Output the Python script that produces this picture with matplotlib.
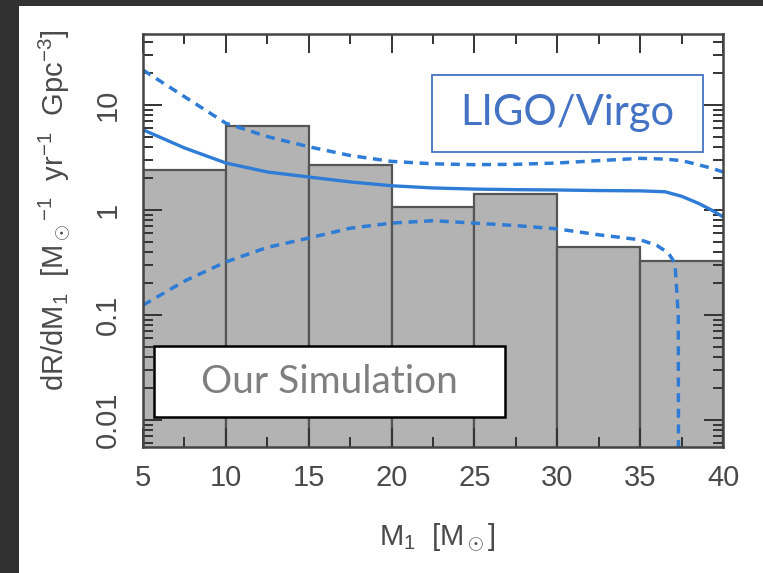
#!/usr/bin/env python
# -*- coding:utf-8 -*-

""" Primary mass distribution: simulation histogram vs LIGO/Virgo """

import numpy as np
import matplotlib
matplotlib.use('Agg')
import matplotlib.pyplot as plt
from matplotlib.patches import Rectangle
from matplotlib.ticker import FixedLocator, NullFormatter, LogLocator

#
#---
# Data
#--------------------

# simulation histogram
m_edges = [5, 10, 15, 20, 25, 30, 35, 40]
sim_rate = [2.4, 6.3, 2.7, 1.07, 1.42, 0.44, 0.33]

# LIGO/Virgo median and upper bound
ligo_m = [5, 7.5, 10, 12.5, 15, 17.5, 20, 22.5, 25, 27.5, 30, 32.5, 35,
          36.5, 37.5, 38.5, 39.3, 40]
ligo_median = [5.8, 3.9, 2.8, 2.3, 2.06, 1.85, 1.7, 1.62, 1.58, 1.56, 1.55,
               1.53, 1.52, 1.49, 1.35, 1.16, 1.0, 0.86]
ligo_upper = [21.5, 12.0, 6.7, 5.0, 4.0, 3.3, 2.9, 2.75, 2.7, 2.72, 2.8,
              2.95, 3.1, 3.05, 2.95, 2.7, 2.5, 2.3]

# LIGO/Virgo lower bound (drops to zero near 37 Msun)
lower_m = [5, 7.5, 10, 12.5, 15, 17.5, 20, 22.5, 25, 27.5, 30, 32.5, 35,
           36, 36.7, 37.1, 37.3, 37.32]
ligo_lower = [0.124, 0.21, 0.32, 0.44, 0.54, 0.67, 0.75, 0.79, 0.75, 0.71,
              0.66, 0.58, 0.52, 0.46, 0.39, 0.31, 0.1, 0.001]

x_ticks = [5, 10, 15, 20, 25, 30, 35, 40]
y_ticks = [0.01, 0.1, 1, 10]
y_ticklabels = ['0.01', '0.1', '1', '10']

#
#---
# Style
#--------------------

plt.rcParams['font.family'] = ['Liberation Sans', 'DejaVu Sans']
plt.rcParams['mathtext.fontset'] = 'custom'
plt.rcParams['mathtext.rm'] = 'Liberation Sans'
plt.rcParams['mathtext.it'] = 'Liberation Sans'

txtCol = '#4a4a4a'
lineCol = '#2e7cd6'
barFace = '#b3b3b3'
barEdge = '#555555'

fig = plt.figure(figsize=(7.63, 5.73), dpi=100, facecolor='white')
ax = fig.add_axes([0.1874, 0.2199, 0.7602, 0.7208])

# dark frame around the screenshot
fig.patches.append(Rectangle((0, 1 - 6 / 573.), 1, 6 / 573., transform=fig.transFigure,
                             facecolor='#313131', edgecolor='none', zorder=0))
fig.patches.append(Rectangle((0, 0), 19 / 763., 1, transform=fig.transFigure,
                             facecolor='#313131', edgecolor='none', zorder=0))

#---------#
# Drawing #
#---------#

ax.bar(m_edges[:-1], sim_rate, width=np.diff(m_edges), align='edge',
       color=barFace, edgecolor=barEdge, linewidth=1.6, zorder=1)

ax.plot(ligo_m, ligo_median, color=lineCol, linewidth=2.4, zorder=3)
ax.plot(ligo_m, ligo_upper, color=lineCol, linewidth=2.5, dashes=(2.6, 1.9), zorder=3)
ax.plot(lower_m, ligo_lower, color=lineCol, linewidth=2.5, dashes=(2.6, 1.9), zorder=3)

ax.set_yscale('log')
ax.set_xlim(5, 40)
ax.set_ylim(0.00553, 47.4)

ax.xaxis.set_major_locator(FixedLocator(x_ticks))
ax.xaxis.set_minor_locator(FixedLocator(np.arange(7.5, 40, 5)))
ax.set_yticks(y_ticks)
ax.set_yticklabels(y_ticklabels)
ax.yaxis.set_minor_locator(LogLocator(base=10, subs=np.arange(2, 10)))
ax.yaxis.set_minor_formatter(NullFormatter())

ax.tick_params(which='both', direction='in', top=True, right=True, color='#333333',
               width=1.4, labelcolor=txtCol, labelsize=21)
ax.tick_params(which='major', length=14)
ax.tick_params(which='minor', length=7)
ax.tick_params(axis='x', pad=12)
ax.tick_params(axis='y', pad=15)
for lab in ax.get_yticklabels():
    lab.set_rotation(90)
    lab.set_va('center')

for sp in ax.spines.values():
    sp.set_color('#444444')
    sp.set_linewidth(1.8)
    sp.set_zorder(4)

ax.set_xlabel(r'M$_1$  [M$_\odot$]', fontsize=21, color=txtCol)
ax.set_ylabel(r'dR/dM$_1$  [M$_\odot$$^{-1}$  yr$^{-1}$  Gpc$^{-3}$]',
              fontsize=21, color=txtCol)
ax.xaxis.set_label_coords(0.507, -0.218)
ax.yaxis.set_label_coords(-0.152, 0.574)
ax.xaxis.label.set_va('center')
ax.yaxis.label.set_va('center')

#--------------------#
# Annotation boxes   #
#--------------------#

fig.patches.append(Rectangle((0.5662, 0.7347), 0.3552, 0.1344, transform=fig.transFigure,
                             facecolor='white', edgecolor='#4472c4', linewidth=1.3, zorder=5))
fig.text(0.7438, 0.8028, 'LIGO/Virgo', color='#4472c4', fontsize=30,
         family=['Lato', 'DejaVu Sans'], ha='center', va='center', zorder=6)

fig.patches.append(Rectangle((0.2018, 0.2723), 0.46, 0.1239, transform=fig.transFigure,
                             facecolor='white', edgecolor='black', linewidth=1.8, zorder=5))
fig.text(0.4318, 0.3342, 'Our Simulation', color='#7f7f7f', fontsize=28,
         family=['Lato', 'DejaVu Sans'], ha='center', va='center', zorder=6)

fig.savefig('out.png', dpi=100, facecolor='white')
